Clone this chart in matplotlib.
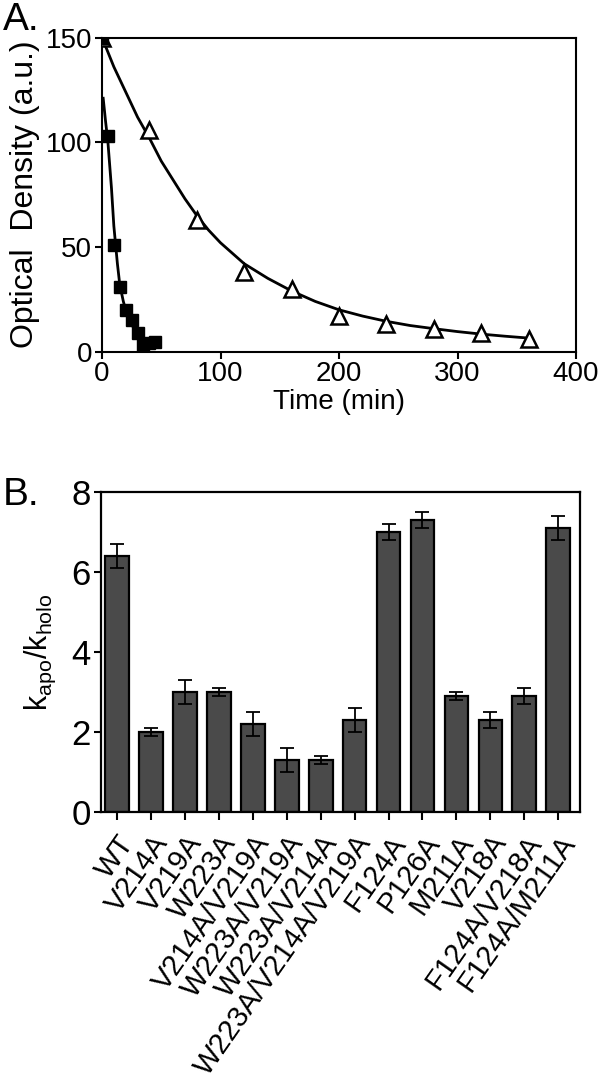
import matplotlib
matplotlib.use("Agg")
import matplotlib.pyplot as plt

plt.rcParams['font.family'] = ['Liberation Sans', 'DejaVu Sans']
plt.rcParams['mathtext.default'] = 'regular'

# ---- Panel A data ----
apo_time = [0, 5, 10, 15, 20, 25, 30, 35, 40, 45]
apo_od = [150, 103, 51, 31, 20, 15, 9, 3, 4, 4.5]
apo_fit_time = [1, 3, 5, 8, 10, 13, 15, 18, 20, 25, 30, 35]
apo_fit_od = [121, 110, 100, 78, 60, 42, 32, 24, 20, 13, 8, 4]

holo_time = [0, 40, 80, 120, 160, 200, 240, 280, 320, 360]
holo_od = [150, 106, 63, 38, 30, 17, 13, 11, 9, 6]
holo_fit_time = [0, 10, 20, 30, 40, 50, 60, 70, 80, 90, 100, 120, 140, 160, 180, 200, 220, 240, 260,
                 280, 300, 320, 340, 360]
holo_fit_od = [150, 136, 124, 112, 102, 91, 82, 73, 65, 58, 52, 42, 35, 29, 24, 20, 17, 14.5, 12.5,
               11, 9.6, 8.4, 7.4, 6.5]

# ---- Panel B data ----
mutants = ['WT', 'V214A', 'V219A', 'W223A', 'V214A/V219A', 'W223A/V219A', 'W223A/V214A',
           'W223A/V214A/V219A', 'F124A', 'P126A', 'M211A', 'V218A', 'F124A/V218A', 'F124A/M211A']
ratio = [6.4, 2.0, 3.0, 3.0, 2.2, 1.3, 1.3, 2.3, 7.0, 7.3, 2.9, 2.3, 2.9, 7.1]
ratio_err = [0.3, 0.1, 0.3, 0.1, 0.3, 0.3, 0.1, 0.3, 0.2, 0.2, 0.1, 0.2, 0.2, 0.3]

W, H = 603, 1082
fig = plt.figure(figsize=(W / 100, H / 100), dpi=100)

def ax_rect(l, r, t, b):
    return [l / W, 1 - b / H, (r - l) / W, (b - t) / H]

# ---- Panel A ----
axA = fig.add_axes(ax_rect(102, 576, 37.5, 351.7))
axA.plot(holo_fit_time, holo_fit_od, color='black', lw=2.0, zorder=2)
axA.plot(apo_fit_time, apo_fit_od, color='black', lw=2.0, zorder=2)
axA.plot(holo_time, holo_od, ls='none', marker='^', ms=11, mfc='white', mec='black', mew=1.8, zorder=3)
axA.plot(apo_time, apo_od, ls='none', marker='s', ms=8, mfc='black', mec='black', zorder=4)
axA.set_xlim(0, 400)
axA.set_ylim(0, 150)
axA.set_xticks([0, 100, 200, 300, 400])
axA.set_yticks([0, 50, 100, 150])
axA.tick_params(direction='out', length=5, width=1.5, labelsize=20, pad=2)
for s in axA.spines.values():
    s.set_linewidth(1.5)
axA.set_xlabel('Time (min)', fontsize=20, labelpad=1)
axA.set_ylabel('Optical  Density (a.u.)', fontsize=23, labelpad=4)
fig.text(3 / W, 1 - 20 / H, 'A.', fontsize=28, va='center', ha='left')

# ---- Panel B ----
axB = fig.add_axes(ax_rect(100.7, 580, 492, 812))
x = list(range(len(mutants)))
axB.bar(x, ratio, width=0.7, color='#4a4a4a', edgecolor='black', linewidth=1.6, zorder=2)
axB.errorbar(x, ratio, yerr=ratio_err, fmt='none', ecolor='black', elinewidth=1.3, capsize=5,
             capthick=1.3, zorder=3)
axB.set_xlim(-0.48, 13.64)
axB.set_ylim(0, 8)
axB.set_yticks([0, 2, 4, 6, 8])
axB.set_xticks(x)
axB.set_xticklabels(mutants, rotation=55, ha='right', rotation_mode='anchor', fontsize=21)
axB.tick_params(axis='y', direction='out', length=5, width=1.5, labelsize=25, pad=2)
axB.tick_params(axis='x', direction='out', length=6, width=1.5, pad=7)
for s in axB.spines.values():
    s.set_linewidth(1.6)
axB.set_ylabel('k$_{apo}$/k$_{holo}$', fontsize=22, labelpad=10)
fig.text(3 / W, 1 - 495 / H, 'B.', fontsize=28, va='center', ha='left')

fig.savefig('out.png', dpi=100)
